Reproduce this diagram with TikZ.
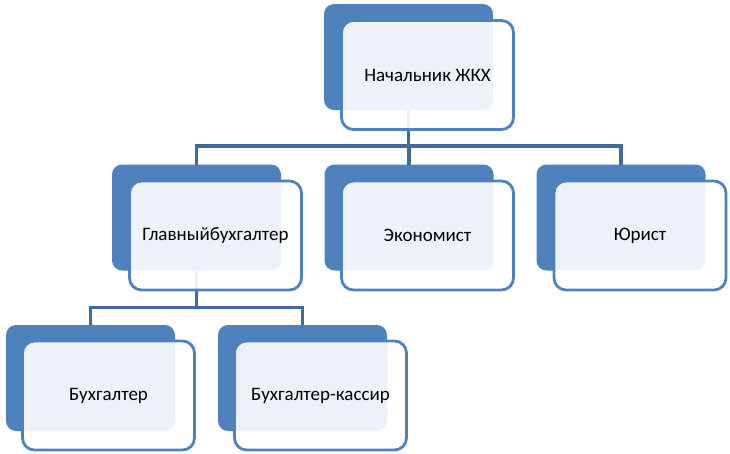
\documentclass[tikz,border=0pt]{standalone}
\usepackage{fontspec}
\setmainfont{Carlito}
\definecolor{backblue}{HTML}{4F81BD}
\definecolor{lineblue}{HTML}{41699A}
\begin{document}
\begin{tikzpicture}[x=1pt,y=-1pt,
  backbox/.style={draw=none,fill=backblue,rounded corners=10pt,minimum width=169pt,minimum height=106pt,inner sep=0pt,outer sep=0pt},
  frontbox/.style={draw=backblue,line width=2.8pt,fill=white,fill opacity=0.9,text opacity=1,rounded corners=12pt,minimum width=172pt,minimum height=109pt,inner sep=0pt,outer sep=0pt,font=\fontsize{19}{23}\selectfont},
  conn/.style={draw=lineblue,line width=3.2pt}]
\useasboundingbox (0,0) rectangle (730,453);
% back boxes
\node[backbox] (b1) at (408.5,57) {};
\node[backbox] (b2) at (196.5,217.5) {};
\node[backbox] (b3) at (409,217.5) {};
\node[backbox] (b4) at (621,217.5) {};
\node[backbox] (b5) at (90.5,378) {};
\node[backbox] (b6) at (302.5,378) {};
% connectors
\draw[conn] (b1.south) -- ++(0,36) coordinate (h1);
\draw[conn] (h1) -| (b2.north);
\draw[conn] (h1) -| (b3.north);
\draw[conn] (h1) -| (b4.north);
\draw[conn] (b2.south) -- ++(0,37) coordinate (h2);
\draw[conn] (h2) -| (b5.north);
\draw[conn] (h2) -| (b6.north);
% front boxes
\node[frontbox] (f1) at (427.5,75) {Начальник ЖКХ};
\node[frontbox] (f2) at (215.5,235.5) {Главныйбухгалтер};
\node[frontbox] (f3) at (427.5,235.5) {Экономист};
\node[frontbox] (f4) at (640,235.5) {Юрист};
\node[frontbox] (f5) at (108.5,395.5) {Бухгалтер};
\node[frontbox] (f6) at (320.5,395.5) {Бухгалтер-кассир};
\end{tikzpicture}
\end{document}
